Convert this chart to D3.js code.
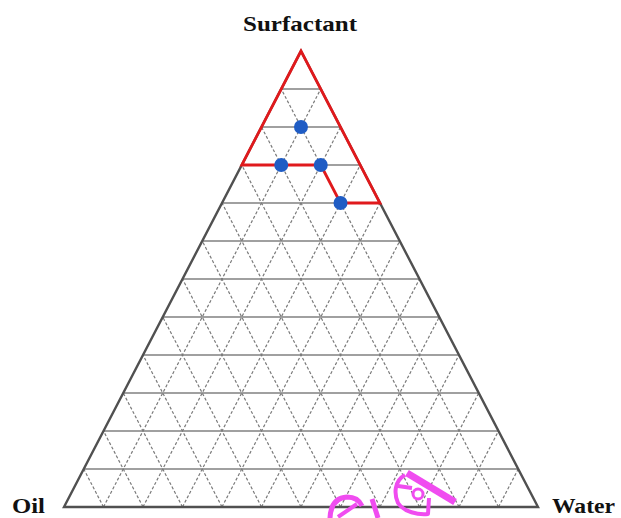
<!DOCTYPE html>
<html>
<head>
<meta charset="utf-8">
<script src="https://cdn.jsdelivr.net/npm/d3@7"></script>
<style>
  html, body { margin: 0; padding: 0; background: #fff; }
  svg { display: block; }
</style>
</head>
<body>
<script>
// Ternary phase diagram: surfactant / oil / water (percent by weight)
const divisions = 12;
const gridLevels = d3.range(1, divisions).map(i => i * 100 / divisions);
const vertexLabels = ["Surfactant", "Oil", "Water"];

// Formulation points (surfactant, oil, water in %)
const pointSurfactant = [83.33, 75, 75, 66.67];
const pointOil        = [8.33, 16.67, 8.33, 8.33];
const pointWater      = [8.33, 8.33, 16.67, 25];

// Boundary of the microemulsion region
const regionSurfactant = [100, 75, 75, 66.67, 66.67];
const regionOil        = [0, 25, 8.33, 8.33, 0];
const regionWater      = [0, 0, 16.67, 25, 33.33];

const width = 621, height = 518;
const svg = d3.select("body").append("svg")
  .attr("width", width).attr("height", height);

// base runs along water share, height along surfactant share
const xScale = d3.scaleLinear().domain([0, 100]).range([64, 538]);
const yScale = d3.scaleLinear().domain([0, 100]).range([507, 51]);
const project = (s, o, w) => [xScale(w + s / 2), yScale(s)];

const line = d3.line();

// horizontal grid (constant surfactant)
const g = svg.append("g");
gridLevels.forEach(s => {
  g.append("path")
    .attr("d", line([project(s, 100 - s, 0), project(s, 0, 100 - s)]))
    .attr("stroke", "#a0a0a0").attr("stroke-width", 2).attr("fill", "none");
});
// diagonal grids (constant water and constant oil), dashed
gridLevels.forEach(v => {
  g.append("path")
    .attr("d", line([project(0, 100 - v, v), project(100 - v, 0, v)]))
    .attr("stroke", "#7a7a7a").attr("stroke-width", 1.2)
    .attr("stroke-dasharray", "3,2").attr("fill", "none");
  g.append("path")
    .attr("d", line([project(0, v, 100 - v), project(100 - v, v, 0)]))
    .attr("stroke", "#7a7a7a").attr("stroke-width", 1.2)
    .attr("stroke-dasharray", "3,2").attr("fill", "none");
});

// outer triangle
svg.append("path")
  .attr("d", line([project(100, 0, 0), project(0, 100, 0), project(0, 0, 100)]) + "Z")
  .attr("fill", "none").attr("stroke", "#505050").attr("stroke-width", 2.4)
  .attr("stroke-linejoin", "miter");

// region outline
const regionPts = regionSurfactant.map((s, i) => project(s, regionOil[i], regionWater[i]));
svg.append("path")
  .attr("d", line(regionPts) + "Z")
  .attr("fill", "none").attr("stroke", "#e0191c").attr("stroke-width", 2.8)
  .attr("stroke-linejoin", "miter");

// formulation points
svg.selectAll("circle.pt")
  .data(pointSurfactant.map((s, i) => project(s, pointOil[i], pointWater[i])))
  .join("circle").attr("class", "pt")
  .attr("cx", d => d[0]).attr("cy", d => d[1]).attr("r", 7)
  .attr("fill", "#1f5cc4");

// vertex labels
const labelStyle = sel => sel
  .attr("font-family", "'Liberation Serif', 'Times New Roman', serif")
  .attr("font-weight", "bold").attr("font-size", 21).attr("fill", "#111")
  .attr("lengthAdjust", "spacingAndGlyphs");
svg.append("text").text(vertexLabels[0])
  .attr("x", 243).attr("y", 31).attr("font-size", 22).attr("textLength", 114).call(labelStyle);
svg.append("text").text(vertexLabels[1])
  .attr("x", 12).attr("y", 513).attr("textLength", 33).call(labelStyle);
svg.append("text").text(vertexLabels[2])
  .attr("x", 552).attr("y", 513).attr("textLength", 63).call(labelStyle);

// hand-drawn magenta marks near the base
const ink = svg.append("g").attr("fill", "none").attr("stroke", "#f04cf0")
  .attr("stroke-linecap", "butt").attr("stroke-linejoin", "round");
ink.append("path").attr("d", "M330,518 Q331,498 347,497 Q358,497 362,506").attr("stroke-width", 5);
ink.append("path").attr("d", "M338,517 L357,504").attr("stroke-width", 4);
ink.append("path").attr("d", "M372,499 L378,518").attr("stroke-width", 5);
ink.append("path").attr("d", "M407,473 L455,502").attr("stroke-width", 7);
ink.append("path").attr("d", "M405,475 C394,481 394,494 398,503 C404,512 418,515 428,514 L429,498").attr("stroke-width", 4);
ink.append("path").attr("d", "M398,486 L412,488").attr("stroke-width", 4);
ink.append("circle").attr("cx", 418).attr("cy", 494).attr("r", 5).attr("stroke-width", 3);
</script>
</body>
</html>
